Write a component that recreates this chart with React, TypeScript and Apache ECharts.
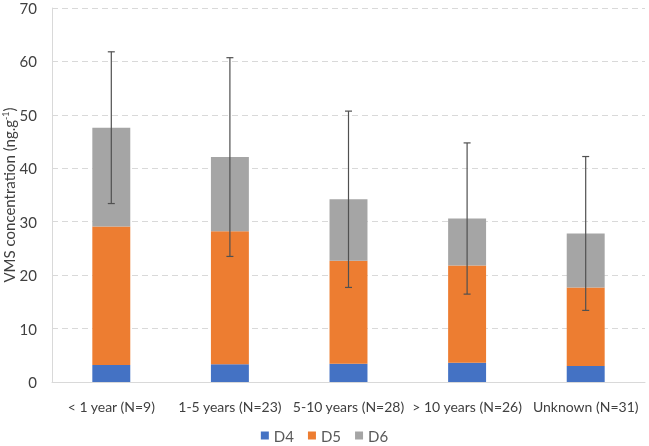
import React, { useEffect, useRef } from "react";
import * as echarts from "echarts";

const categories = ["< 1 year (N=9)", "1-5 years (N=23)", "5-10 years (N=28)", "> 10 years (N=26)", "Unknown (N=31)"];
const d4 = [3.2, 3.3, 3.4, 3.6, 3.0];
const d5 = [25.9, 24.9, 19.3, 18.2, 14.7];
const d6 = [18.5, 13.9, 11.5, 8.8, 10.1];
const sd = [14.2, 18.6, 16.5, 14.15, 14.4];
const yTicks = { min: 0, max: 70, interval: 10 };

const FONT = "Lato, 'Liberation Sans', sans-serif";

export default function App() {
  const ref = useRef<HTMLDivElement>(null);
  useEffect(() => {
    if (!ref.current) return;
    const chart = echarts.init(ref.current, null, { renderer: "svg" });
    const totals = categories.map((_, i) => d4[i] + d5[i] + d6[i]);
    const errData = categories.map((_, i) => [i, totals[i] - sd[i], totals[i] + sd[i]]);
    chart.setOption({
      animation: false,
      textStyle: { fontFamily: FONT },
      grid: { left: 52, right: 4, top: 8, bottom: 64, containLabel: false, outerBoundsMode: "none" },
      legend: {
        bottom: -2,
        left: "center",
        itemWidth: 8,
        itemHeight: 8,
        itemGap: 14,
        icon: "rect",
        textStyle: { fontSize: 15, color: "#595959", fontFamily: FONT },
        data: ["D4", "D5", "D6"],
      },
      xAxis: {
        type: "category",
        data: categories,
        axisLine: { lineStyle: { color: "#D9D9D9" } },
        axisTick: { show: false },
        axisLabel: { fontSize: 14, color: "#404040", margin: 17, interval: 0, fontFamily: FONT },
      },
      yAxis: {
        type: "value",
        min: yTicks.min,
        max: yTicks.max,
        interval: yTicks.interval,
        name: "{a|VMS concentration (ng.g}{s|-1}{a|)}",
        nameLocation: "middle",
        nameGap: 35,
        nameRotate: 90,
        nameMoveOverlap: false,
        nameTextStyle: {
          rich: {
            a: { fontSize: 15, color: "#404040", fontFamily: FONT },
            s: { fontSize: 9, color: "#404040", fontFamily: FONT, verticalAlign: "top", padding: [0, 0, 7, 0] },
          },
        },
        axisLine: { show: true, lineStyle: { color: "#D9D9D9" } },
        axisTick: { show: false },
        splitLine: { lineStyle: { color: "#D9D9D9", type: [6, 4] } },
        axisLabel: { fontSize: 15, color: "#404040", margin: 15, fontFamily: FONT },
      },
      series: [
        { name: "D4", type: "bar", stack: "t", data: d4, barWidth: "32%", itemStyle: { color: "#4472C4" } },
        { name: "D5", type: "bar", stack: "t", data: d5, itemStyle: { color: "#ED7D31" } },
        { name: "D6", type: "bar", stack: "t", data: d6, itemStyle: { color: "#A5A5A5" } },
        {
          name: "err",
          type: "custom",
          data: errData,
          encode: { x: 0, y: [1, 2] },
          z: 10,
          renderItem: (params: any, api: any) => {
            const x = api.value(0);
            const lo = api.coord([x, api.value(1)]);
            const hi = api.coord([x, api.value(2)]);
            const hw = 3.5;
            const style = { stroke: "#505050", lineWidth: 1.2 };
            return {
              type: "group",
              children: [
                { type: "line", shape: { x1: lo[0], y1: lo[1], x2: hi[0], y2: hi[1] }, style },
                { type: "line", shape: { x1: lo[0] - hw, y1: lo[1], x2: lo[0] + hw, y2: lo[1] }, style },
                { type: "line", shape: { x1: hi[0] - hw, y1: hi[1], x2: hi[0] + hw, y2: hi[1] }, style },
              ],
            };
          },
        },
      ],
    });
    return () => chart.dispose();
  }, []);
  return <div ref={ref} style={{ position: "fixed", left: 0, top: 0, width: 649, height: 446 }} />;
}
